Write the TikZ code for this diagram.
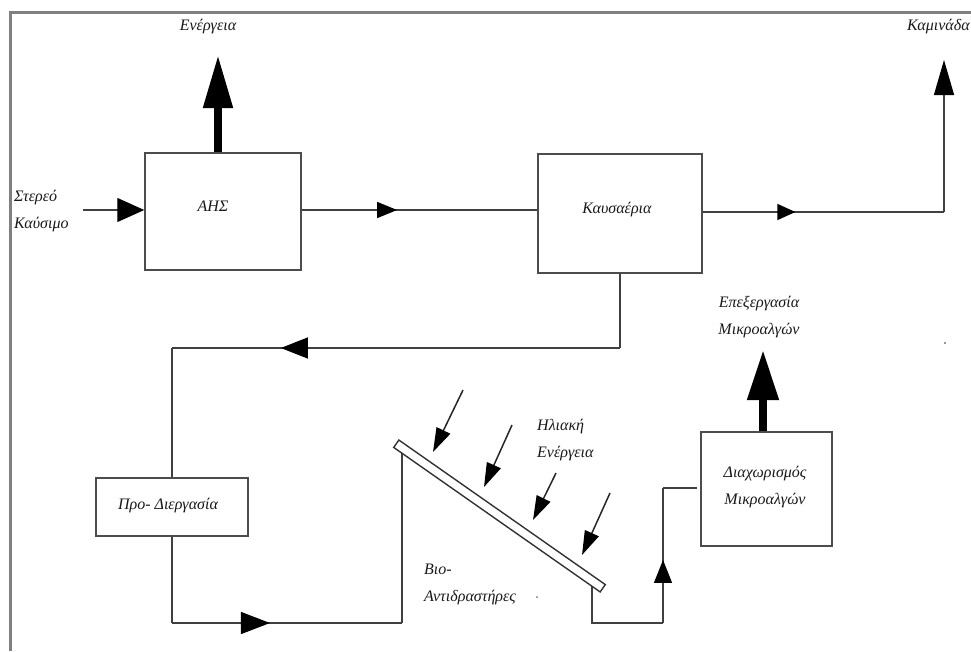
\documentclass[tikz,border=0pt]{standalone}
\usepackage{fontspec}
\setmainfont{Liberation Serif}
\usetikzlibrary{arrows.meta,decorations.markings,calc}
\begin{document}
\begin{tikzpicture}[x=1pt,y=-1pt,
  ln/.style={draw=black!75, line width=1.3pt},
  box/.style={draw=black!70, line width=1.5pt, rectangle, inner sep=0pt, fill=white},
  lbl/.style={font=\fontsize{16}{27}\selectfont\itshape, text=black!90, inner sep=0pt},
  midarr/.style 2 args={postaction={decorate}, decoration={markings, mark=at position #1 with {\arrow{#2}}}},
  thick/.style={draw=black, line width=8pt},
  sun/.style={draw=black!85, line width=1.5pt, -{Triangle[length=24pt,width=15pt,color=black]}}
]
\useasboundingbox (0,0) rectangle (971,651);
\draw[black!50, line width=3pt] (10,651) -- (10,12) -- (971,12);

% boxes
\node[box, minimum width=156pt, minimum height=117pt] (ahs) at (223,211.5) {};
\node[lbl] (ahsT) at (213,206) {ΑΗΣ};
\node[box, minimum width=164pt, minimum height=119pt] (kaus) at (620,213.5) {};
\node[lbl] (kausT) at (617,210) {Καυσαέρια};
\node[box, minimum width=152pt, minimum height=58pt] (pre) at (172,507) {};
\node[lbl] (preT) at (168,506) {Προ- Διεργασία};
\node[box, minimum width=131pt, minimum height=114pt] (diax) at (766.5,489) {};
\node[lbl, align=center] (diaxT) at (765,487) {Διαχωρισμός\\Μικροαλγών};

% labels
\node[lbl] (enT) at (208,27) {Ενέργεια};
\node[lbl, anchor=west] (chimT) at (907,27) {Καμινάδα};
\node[lbl, anchor=west, align=left] (fuelT) at (14,211) {Στερεό\\Καύσιμο};
\node[lbl, anchor=west, align=left] (sunT) at (537,440) {Ηλιακή\\Ενέργεια};
\node[lbl, anchor=west, align=left] (bioT) at (424,584) {Βιο-\\Αντιδραστήρες};
\node[lbl, align=center] (procT) at (759,317) {Επεξεργασία\\Μικροαλγών};

% coordinates
\coordinate (in) at (83,210);
\coordinate (kr) at (944,212);
\coordinate (chim) at (944,60);
\coordinate (r1) at (620,348);
\coordinate (r2) at (172,348);
\coordinate (b1) at (172,623);
\coordinate (b2) at (402,623);
\coordinate (pl) at (402,452);
\coordinate (pr) at (592,586);
\coordinate (c1) at (592,623);
\coordinate (c2) at (663,623);
\coordinate (c3) at (663,488);
\coordinate (c4) at (697,488);
\coordinate (en) at (218,55);
\coordinate (dtip) at (763,350);

% connectors
\draw[ln, -{Triangle[length=27pt,width=24pt,color=black]}] (in) -- (in -| ahs.west);
\draw[ln, midarr={0.405}{Triangle[length=20pt,width=16pt,color=black]}] (ahs.east |- in) -- (in -| kaus.west);
\draw[ln, midarr={0.384}{Triangle[length=18pt,width=16pt,color=black]}] (kaus.east |- kr) -- (kr);
\draw[ln, -{Triangle[length=35pt,width=20pt,color=black]}] (kr) -- (chim);
\draw[ln] (kaus.south) -- (r1);
\draw[ln, midarr={0.757}{Triangle[length=27pt,width=21pt,color=black]}] (r1) -- (r2);
\draw[ln] (r2) -- (pre.north);
\draw[ln] (pre.south) -- (b1);
\draw[ln, midarr={0.426}{Triangle[length=29pt,width=22pt,color=black]}] (b1) -- (b2);
\draw[ln] (b2) -- (pl);
\draw[ln] (pr) -- (c1) -- (c2);
\draw[ln, midarr={0.467}{Triangle[length=23pt,width=18pt,color=black]}] (c2) -- (c3);
\draw[ln] (c3) -- (c4);

% panel
\node[draw=black!80, line width=1.4pt, fill=white, rectangle, minimum width=252pt, minimum height=9pt, inner sep=0pt, rotate=-35] (panel) at (499.5,516) {};

% sun rays
\coordinate (s1a) at (463,390); \coordinate (s1b) at (433,452);
\coordinate (s2a) at (512,425); \coordinate (s2b) at (484,487);
\coordinate (s3a) at (556,473); \coordinate (s3b) at (533,520);
\coordinate (s4a) at (610,493); \coordinate (s4b) at (582,555);
\draw[sun] (s1a) -- (s1b);
\draw[sun] (s2a) -- (s2b);
\draw[sun] (s3a) -- (s3b);
\draw[sun] (s4a) -- (s4b);

% thick arrows
\draw[thick, -{Triangle[length=53pt,width=28pt]}] (en |- ahs.north) -- (en);
\draw[thick, -{Triangle[length=50pt,width=30pt]}] (dtip |- diax.north) -- (dtip);

% stray dots
\fill[black!55] (945,343) circle (1.2);
\fill[black!55] (537,597) circle (1);
\end{tikzpicture}
\end{document}
